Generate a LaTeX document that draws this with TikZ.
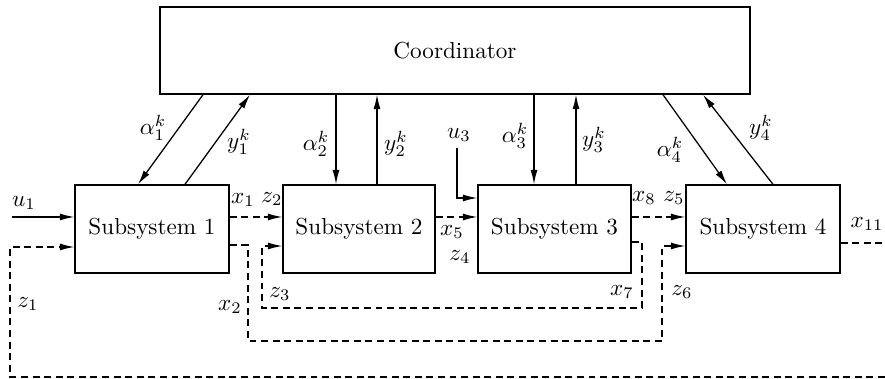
\documentclass[tikz,border=0pt]{standalone}
\usetikzlibrary{arrows.meta}
\begin{document}
\begin{tikzpicture}[x=0.4317pt,y=-0.4317pt,
  every node/.style={inner sep=0pt},
  blk/.style={draw, line width=0.58pt, minimum height=38pt, inner sep=0pt},
  conn/.style={line width=0.55pt},
  arr/.style={conn, -{Latex[length=6.2pt,width=3pt]}},
  dsh/.style={conn, dash pattern=on 3pt off 2pt},
  darr/.style={dsh, -{Latex[length=6.2pt,width=3pt]}},
  lbl/.style={anchor=center}]
\useasboundingbox (0,0) rectangle (885,379);

\node[blk, minimum width=254.7pt, minimum height=37.6pt] (C) at (455,50.5) {Coordinator};
\node[blk, minimum width=66.5pt] (S1) at (152,229) {Subsystem 1};
\node[blk, minimum width=65.6pt] (S2) at (359,229) {Subsystem 2};
\node[blk, minimum width=66.05pt] (S3) at (554.5,229) {Subsystem 3};
\node[blk, minimum width=66.5pt] (S4) at (763,229) {Subsystem 4};

% coordinator links
\draw[arr] (203,0 |- C.south) -- (138,0 |- S1.north);
\draw[arr] (185,0 |- S1.north) -- (250,0 |- C.south);
\draw[arr] (336,0 |- C.south) -- (336,0 |- S2.north);
\draw[arr] (377,0 |- S2.north) -- (377,0 |- C.south);
\draw[arr] (534,0 |- C.south) -- (534,0 |- S3.north);
\draw[arr] (576,0 |- S3.north) -- (576,0 |- C.south);
\draw[arr] (663,0 |- C.south) -- (727,0 |- S4.north);
\draw[arr] (773,0 |- S4.north) -- (703,0 |- C.south);

% inputs
\coordinate (u1) at (12,217);
\draw[arr] (u1) -- (S1.west |- u1);
\coordinate (u3) at (457,148);
\draw[arr] (u3) -- (457,198) -- (S3.west |- 0,198);

% interconnections
\draw[darr] (S1.east |- 0,217) -- (S2.west |- 0,217);
\draw[darr] (S2.east |- 0,217) -- (S3.west |- 0,217);
\draw[darr] (S3.east |- 0,217) -- (S4.west |- 0,217);
\draw[darr] (S1.east |- 0,245) -- (248,245) -- (248,341) -- (662,341) -- (662,246) -- (S4.west |- 0,246);
\draw[darr] (S3.east |- 0,242) -- (642,242) -- (642,308) -- (262,308) -- (262,246) -- (S2.west |- 0,246);
\coordinate (e1) at (885,377);
\draw[darr] (e1) -- (10,377) -- (10,247) -- (S1.west |- 0,247);
\coordinate (e2) at (885,243);
\draw[dsh] (S4.east |- e2) -- (e2);

% labels
\node[lbl] at (153,128) {$\alpha_1^k$};
\node[lbl] at (239,142) {$y_1^k$};
\node[lbl] at (316,144) {$\alpha_2^k$};
\node[lbl] at (396,144) {$y_2^k$};
\node[lbl] at (459,135) {$u_3$};
\node[lbl] at (515,136) {$\alpha_3^k$};
\node[lbl] at (594,140) {$y_3^k$};
\node[lbl] at (670,150) {$\alpha_4^k$};
\node[lbl] at (761,128) {$y_4^k$};
\node[lbl] at (24,203) {$u_1$};
\node[lbl] at (243,200) {$x_1$};
\node[lbl] at (272,199) {$z_2$};
\node[lbl] at (28,304) {$z_1$};
\node[lbl] at (230,307) {$x_2$};
\node[lbl] at (280,294) {$z_3$};
\node[lbl] at (452,232) {$x_5$};
\node[lbl] at (460,257) {$z_4$};
\node[lbl] at (644,198) {$x_8$};
\node[lbl] at (674,198) {$z_5$};
\node[lbl] at (867,224) {$x_{11}$};
\node[lbl] at (622,292) {$x_7$};
\node[lbl] at (682,292) {$z_6$};
\end{tikzpicture}
\end{document}
